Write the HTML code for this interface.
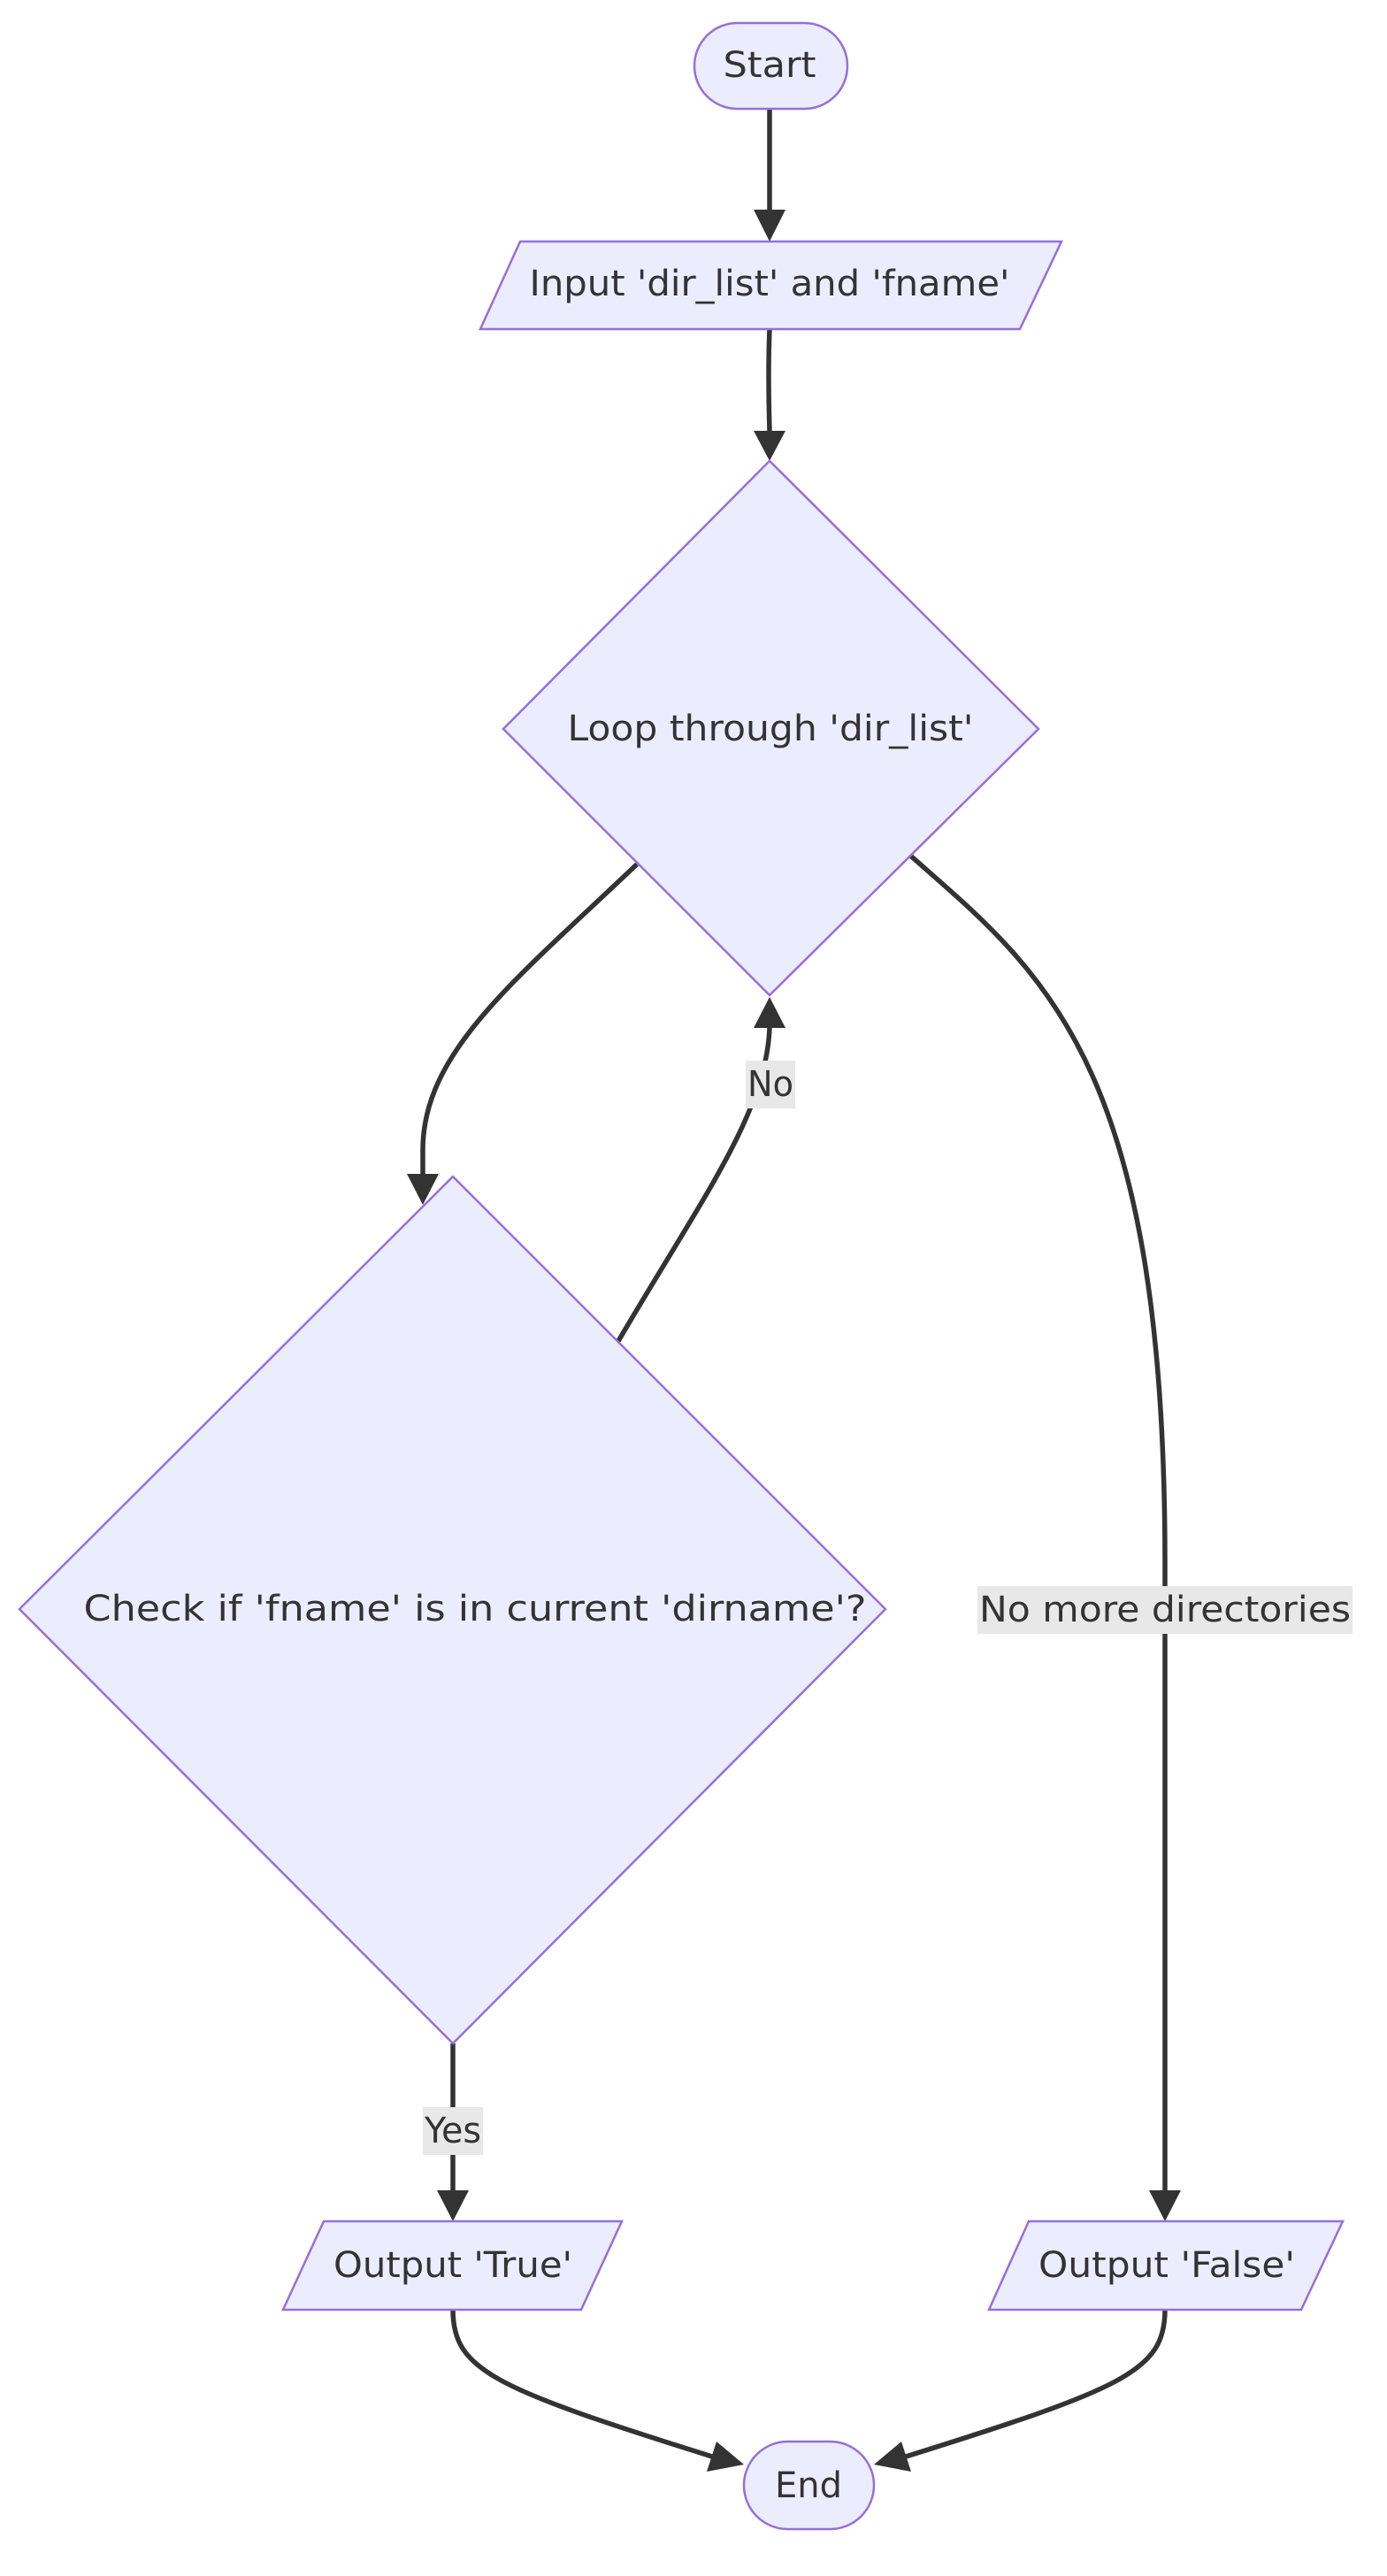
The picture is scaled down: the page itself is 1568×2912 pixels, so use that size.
<!DOCTYPE html>
<html><head><meta charset="utf-8"><style>
html,body{margin:0;padding:0;background:#fff;}
svg{display:block;}
text{font-family:"DejaVu Sans","Liberation Sans",sans-serif;font-size:40px;fill:#333;}
</style></head><body>
<svg width="1568" height="2912" viewBox="0 0 1568 2912" xmlns="http://www.w3.org/2000/svg">
<g fill="none" stroke="#333" stroke-width="5.5">
<path d="M870,123 L870,238"/>
<path d="M870,372 Q868,420 870,487"/>
<path d="M720,977 C580,1110 478,1190 478,1300 L478,1327"/>
<path d="M699,1516 C790,1360 866,1260 870,1162"/>
<path d="M1029,967 C1180,1100 1317,1200 1317,1767 L1317,2476"/>
<path d="M512,2310 L512,2476"/>
<path d="M512,2611 C512,2680 560,2700 805,2777"/>
<path d="M1317,2611 C1317,2680 1270,2700 1024,2777"/>
</g>
<g fill="#333">
<polygon points="852,237 888,237 870,273"/>
<polygon points="852,487 888,487 870,521"/>
<polygon points="460,1327 496,1327 478,1362"/>
<polygon points="852,1162 888,1162 870,1127"/>
<polygon points="1299,2476 1335,2476 1317,2511"/>
<polygon points="494,2476 530,2476 512,2511"/>
<polygon points="799,2794 810,2760 841,2786"/>
<polygon points="1030,2794 1019,2760 988,2786"/>
</g>
<g fill="#ececff" stroke="#9370db" stroke-width="2.5">
<rect x="785" y="26" width="173" height="97" rx="48.5"/>
<polygon points="588,273 1200,273 1153,372 543,372"/>
<polygon points="870,521 1174,824 870,1125 569,824"/>
<polygon points="512,1330 1001,1819 512,2310 22,1819"/>
<polygon points="366,2511 703,2511 657,2611 320,2611"/>
<polygon points="1163,2511 1518,2511 1471,2611 1118,2611"/>
<rect x="841" y="2760" width="147" height="99" rx="49.5"/>
</g>
<g fill="#e8e8e8">
<rect x="843" y="1199" width="56" height="54"/>
<rect x="1105" y="1793" width="424" height="54"/>
<rect x="478" y="2382" width="68" height="54"/>
</g>
<g text-anchor="middle" dominant-baseline="central">
<text x="870" y="74" textLength="105" lengthAdjust="spacingAndGlyphs">Start</text>
<text x="870" y="321" textLength="543" lengthAdjust="spacingAndGlyphs">Input 'dir_list' and 'fname'</text>
<text x="871" y="824" textLength="459" lengthAdjust="spacingAndGlyphs">Loop through 'dir_list'</text>
<text x="537" y="1819" textLength="885" lengthAdjust="spacingAndGlyphs">Check if 'fname' is in current 'dirname'?</text>
<text x="512" y="2561" textLength="270" lengthAdjust="spacingAndGlyphs">Output 'True'</text>
<text x="1319" y="2561" textLength="290" lengthAdjust="spacingAndGlyphs">Output 'False'</text>
<text x="914" y="2810" textLength="76" lengthAdjust="spacingAndGlyphs">End</text>
<text x="871" y="1226" textLength="52" lengthAdjust="spacingAndGlyphs">No</text>
<text x="1317" y="1820" textLength="420" lengthAdjust="spacingAndGlyphs">No more directories</text>
<text x="512" y="2409" textLength="64" lengthAdjust="spacingAndGlyphs">Yes</text>
</g>
</svg>
</body></html>
